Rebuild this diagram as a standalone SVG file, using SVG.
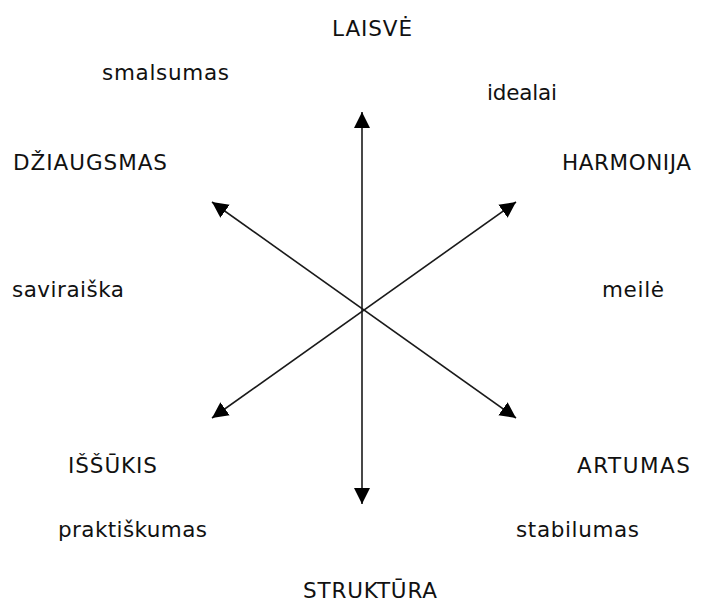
<svg xmlns="http://www.w3.org/2000/svg" width="704" height="610" viewBox="0 0 704 610">
<defs>
<style>
.lbl{font-family:"DejaVu Sans","Liberation Sans",sans-serif;font-size:21.5px;fill:#111}
.ax{stroke:#1a1a1a;stroke-width:1.6;fill:none}
</style>
<marker id="ah" markerUnits="userSpaceOnUse" markerWidth="18" markerHeight="18" viewBox="0 0 18 18" refX="16" refY="9" orient="auto-start-reverse">
<path d="M0,1 L16,9 L0,17 z" fill="#000"/>
</marker>
</defs>
<rect width="704" height="610" fill="#fff"/>
<g id="connectors">
<line class="ax" x1="362" y1="112" x2="362" y2="504" marker-start="url(#ah)" marker-end="url(#ah)"/>
<line class="ax" x1="212" y1="202" x2="516" y2="418" marker-start="url(#ah)" marker-end="url(#ah)"/>
<line class="ax" x1="516" y1="202" x2="212" y2="418" marker-start="url(#ah)" marker-end="url(#ah)"/>
</g>
<g id="laisve"><text class="lbl" x="332" y="36" textLength="80">LAISVĖ</text></g>
<g id="smalsumas"><text class="lbl" x="102" y="80" textLength="127">smalsumas</text></g>
<g id="idealai"><text class="lbl" x="487" y="100" textLength="70">idealai</text></g>
<g id="dziaugsmas"><text class="lbl" x="13" y="170" textLength="154">DŽIAUGSMAS</text></g>
<g id="harmonija"><text class="lbl" x="562" y="170" textLength="129">HARMONIJA</text></g>
<g id="saviraiska"><text class="lbl" x="12" y="297" textLength="112">saviraiška</text></g>
<g id="meile"><text class="lbl" x="602" y="297" textLength="62">meilė</text></g>
<g id="issukis"><text class="lbl" x="68" y="473" textLength="89">IŠŠŪKIS</text></g>
<g id="artumas"><text class="lbl" x="577" y="473" textLength="113">ARTUMAS</text></g>
<g id="praktiskumas"><text class="lbl" x="58" y="537" textLength="149">praktiškumas</text></g>
<g id="stabilumas"><text class="lbl" x="516" y="537" textLength="123">stabilumas</text></g>
<g id="struktura"><text class="lbl" x="303" y="598" textLength="134">STRUKTŪRA</text></g>
</svg>
